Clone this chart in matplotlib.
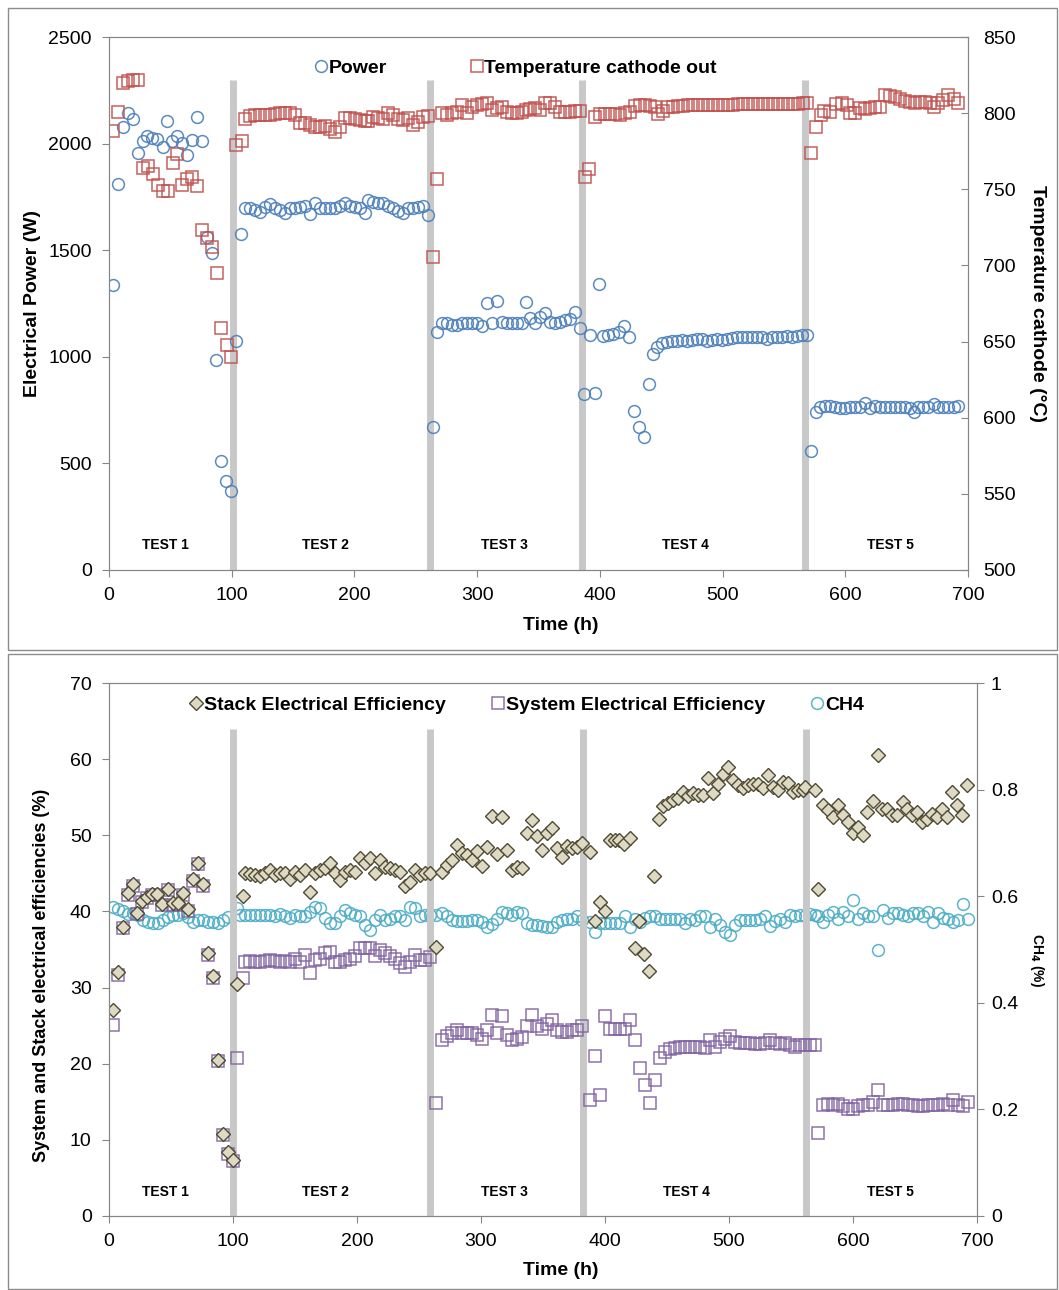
import matplotlib
matplotlib.use("Agg")
import matplotlib.pyplot as plt
from matplotlib.patches import Rectangle
from matplotlib.ticker import FuncFormatter

# ---- top chart: electrical power and cathode outlet temperature ----
power_h = [3.5, 7.6, 11.2, 15.2, 19.3, 23.4, 27.5, 31.2, 34.8, 39.4, 43.8, 47.5, 51.1, 55.4, 59.2,
           63.3, 67.4, 71.5, 75.5, 79.6, 83.7, 87.2, 91.3, 95.4, 99.4, 103.5, 107.6,
           110.8, 114.9, 118.9, 123.1, 127.1, 131.2, 135.3, 139.4, 143.4, 147.5, 151.6, 155.7, 159.7,
           163.8, 167.9, 172.0, 176.0, 180.1, 184.2, 188.3, 192.3, 196.4, 200.5, 204.6, 208.6, 211.4,
           215.4, 219.5, 223.6, 227.7, 231.7, 235.8, 239.9, 244.0, 248.0, 252.1, 256.2, 260.3,
           263.8, 267.6, 271.1, 275.2, 279.3, 283.3, 287.4, 291.5, 295.6, 299.6, 303.7, 307.8, 311.9,
           315.9, 320.0, 324.1, 328.2, 332.2, 336.3, 339.8, 343.1, 347.2, 351.2, 355.3, 359.4, 363.5,
           367.5, 371.6, 375.7, 379.8, 383.8,
           387.0, 392.0, 396.0, 399.6, 402.9, 407.0, 411.0, 415.9, 419.7, 424.0, 427.9, 432.0, 436.0,
           439.9, 443.6, 446.9, 450.4, 454.4, 458.6, 462.6, 466.7, 470.8, 474.9, 478.9, 483.0, 487.1,
           491.2, 495.2, 499.3, 503.4, 507.5, 511.5, 515.6, 519.7, 523.8, 527.8, 531.9, 536.0, 540.1,
           544.1, 548.2, 552.3, 556.4, 560.4, 564.5, 568.6,
           571.9, 576.2, 579.4, 583.5, 587.6, 591.7, 595.8, 599.8, 603.9, 608.0, 612.1, 616.1, 620.2,
           624.3, 628.4, 632.4, 636.5, 640.6, 644.7, 648.7, 652.8, 656.1, 659.6, 663.7, 667.8, 671.9,
           675.9, 680.0, 684.1, 688.2, 692.2]
power_w = [1337, 1811, 2079, 2145, 2114, 1954, 2011, 2036, 2025, 2023, 1985, 2107, 2011, 2036, 2001,
           1945, 2017, 2123, 2011, 1560, 1485, 985, 511, 416, 372, 1075, 1576,
           1699, 1696, 1689, 1681, 1704, 1715, 1699, 1689, 1676, 1696, 1699, 1704, 1707,
           1668, 1720, 1696, 1696, 1696, 1699, 1707, 1720, 1707, 1704, 1696, 1673, 1735,
           1728, 1723, 1720, 1707, 1696, 1684, 1676, 1696, 1699, 1704, 1707, 1665,
           672, 1115, 1157, 1160, 1149, 1149, 1160, 1157, 1157, 1157, 1144, 1254, 1157,
           1262, 1165, 1157, 1160, 1157, 1157, 1259, 1180, 1157, 1188, 1204, 1165, 1160,
           1165, 1173, 1176, 1212, 1134,
           825, 1102, 832, 1341, 1098, 1102, 1107, 1118, 1146, 1091, 746, 669, 622,
           872, 1013, 1047, 1063, 1071, 1074, 1076, 1079, 1076, 1079, 1082, 1082, 1076,
           1079, 1082, 1079, 1082, 1087, 1091, 1094, 1094, 1094, 1091, 1091, 1082, 1091,
           1094, 1094, 1098, 1094, 1098, 1102, 1102,
           560, 743, 766, 769, 769, 763, 758, 758, 763, 763, 766, 782, 758,
           769, 766, 763, 763, 763, 763, 763, 758, 743, 763, 763, 766, 779,
           766, 763, 763, 766, 769]

tcat_h = [3.5, 7.6, 11.2, 15.7, 19.8, 23.9, 27.5, 31.5, 35.6, 39.7, 43.8, 47.8, 51.9, 55.7, 59.2,
          63.3, 67.4, 71.5, 75.5, 79.6, 83.7, 87.8, 91.5, 95.9, 99.4, 103.5, 108.1,
          110.8, 114.9, 118.9, 123.1, 127.1, 131.2, 135.3, 139.4, 143.4, 147.5, 151.6, 155.7, 159.7,
          163.8, 167.9, 172.0, 176.0, 180.1, 184.2, 188.3, 192.3, 196.4, 200.5, 204.6, 208.6, 211.4,
          215.4, 219.5, 223.6, 227.7, 231.7, 235.8, 239.9, 244.0, 248.0, 252.1, 256.2, 260.3,
          263.8, 267.6, 271.1, 275.2, 279.3, 283.3, 287.4, 291.5, 295.6, 299.6, 303.7, 307.8, 311.9,
          315.9, 320.0, 324.1, 328.2, 332.2, 336.3, 339.8, 343.1, 347.2, 351.2, 355.3, 359.4, 363.5,
          367.5, 371.6, 375.7, 379.8, 383.8,
          388.0, 391.4, 396.1, 400.2, 404.2, 408.3, 412.4, 416.4, 420.5, 424.6, 428.7, 432.7, 436.8,
          440.9, 445.0, 447.7, 451.8, 455.9, 459.9, 464.0, 468.1, 472.2, 476.3, 480.3, 484.4, 488.5,
          492.6, 496.6, 500.7, 504.8, 508.8, 512.9, 517.0, 521.1, 525.1, 529.2, 533.3, 537.4, 541.4,
          545.5, 549.6, 553.7, 557.7, 561.8, 565.9, 568.6,
          571.9, 576.2, 580.0, 582.3, 587.6, 592.5, 597.1, 601.2, 603.9, 608.0, 612.1, 616.1, 620.2,
          624.3, 628.4, 632.4, 636.5, 640.6, 644.7, 648.7, 652.8, 656.9, 661.0, 665.0, 669.1, 672.4,
          675.9, 680.0, 684.1, 688.2, 692.2]
tcat_c = [788, 801, 820, 821, 822, 822, 764, 765, 760, 753, 749, 749, 767, 773, 753,
          757, 758, 752, 723, 718, 712, 695, 659, 648, 640, 779, 782,
          795.9, 798.1, 798.5, 798.7, 798.7, 798.9, 799.4, 799.8, 800.3, 800.3, 798.9, 793.3, 793.7,
          792.2, 791.1, 791.1, 791.5, 789.5, 787.8, 791.1, 796.6, 796.6, 795.9, 795.5, 795.0, 795.0,
          797.7, 796.6, 795.9, 799.8, 798.7, 795.9, 795.5, 796.6, 792.2, 794.4, 797.2, 798.1,
          705.7, 756.9, 799.8, 798.7, 799.8, 800.9, 805.3, 799.8, 804.2, 805.3, 806.0, 806.4, 802.0,
          803.1, 804.2, 800.9, 799.8, 799.8, 800.9, 802.0, 802.4, 803.1, 802.0, 806.9, 806.4, 803.8,
          800.9, 800.9, 800.9, 801.6, 801.6,
          758.2, 763.1, 797.7, 799.4, 799.4, 799.4, 799.4, 798.7, 800.3, 800.9, 804.7, 805.3, 805.3,
          804.7, 804.3, 799.4, 801.6, 803.8, 804.3, 804.7, 804.7, 805.3, 805.3, 805.3, 805.3, 805.3,
          805.3, 805.3, 805.3, 805.3, 805.3, 806.0, 806.0, 806.0, 806.0, 806.0, 806.0, 806.0, 806.0,
          806.0, 806.0, 806.0, 806.0, 806.0, 806.4, 806.8,
          774.0, 790.7, 798.8, 801.6, 800.9, 806.0, 806.4, 805.3, 800.3, 800.3, 803.1, 802.4, 803.1,
          804.3, 804.3, 811.9, 811.3, 810.8, 809.1, 808.3, 807.6, 806.4, 807.6, 807.6, 806.9, 804.3,
          806.4, 808.7, 811.9, 809.1, 806.4]

# ---- bottom chart: efficiencies and CH4 ----
stack_h = [3.5, 7.5, 11.5, 15.6, 19.6, 22.8, 26.4, 30.4, 34.4, 38.5, 43.0, 47.8, 51.9, 55.9, 59.9,
           64.0, 68.0, 71.5, 76.0, 79.6, 83.6, 87.7, 91.7, 95.7, 99.8, 103.5, 107.8,
           109.7, 113.7, 117.7, 121.8, 125.8, 129.8, 133.9, 137.9, 141.9, 146.0, 150.0, 154.0, 158.1,
           162.1, 166.1, 170.2, 174.2, 178.2, 182.3, 186.3, 190.3, 194.4, 198.4, 202.4, 206.5, 210.5,
           214.5, 218.5, 222.6, 226.6, 230.6, 234.7, 238.7, 242.7, 246.8, 250.8, 254.8, 258.9,
           263.7, 268.3, 272.3, 276.3, 280.4, 284.4, 288.4, 292.5, 296.5, 300.5, 304.6, 308.6, 312.6,
           316.7, 320.7, 324.7, 328.8, 332.8, 336.8, 340.9, 344.9, 348.9, 353.0, 357.0, 361.0, 365.1,
           369.1, 373.1, 377.2, 381.2,
           388.0, 392.0, 396.0, 400.0, 404.0, 408.0, 411.5, 415.6, 420.2, 424.2, 427.7, 431.7, 435.8,
           439.5, 443.8, 447.0, 451.0, 455.0, 459.1, 463.1, 467.1, 471.2, 475.2, 479.2, 483.3, 487.3,
           491.3, 495.4, 499.4, 503.4, 507.5, 511.5, 515.5, 519.6, 523.6, 527.6, 531.7, 535.7, 539.7,
           543.8, 547.8, 551.8, 555.9, 559.9, 561.3, 569.4,
           572.0, 575.5, 580.1, 584.1, 588.1, 592.2, 596.2, 600.3, 604.3, 608.3, 611.6, 615.9, 619.9,
           623.1, 627.2, 631.2, 635.2, 640.1, 643.8, 647.8, 651.3, 655.4, 659.4, 663.4, 667.5, 671.5,
           676.1, 680.1, 684.1, 688.2, 692.2]
stack_eff = [27.1, 32.0, 38.0, 42.4, 43.6, 39.8, 41.4, 41.9, 42.3, 42.3, 41.0, 43.0, 41.1, 41.1, 42.4,
             40.3, 44.2, 46.4, 43.6, 34.5, 31.5, 20.5, 10.8, 8.4, 7.4, 30.5, 42.0,
             45.0, 44.9, 44.8, 44.6, 45.0, 45.4, 44.8, 45.0, 45.0, 44.2, 45.2, 44.8, 45.4,
             42.6, 45.0, 45.4, 45.7, 46.3, 45.1, 44.1, 45.2, 45.4, 45.2, 47.0, 46.3, 47.0,
             45.0, 46.7, 45.9, 45.7, 45.5, 45.2, 43.3, 43.9, 45.5, 44.8, 45.1, 45.1,
             35.3, 45.2, 46.1, 46.8, 48.7, 47.7, 47.4, 46.7, 48.0, 46.0, 48.5, 52.5, 47.6,
             52.4, 48.1, 45.4, 45.9, 45.7, 50.3, 52.0, 49.9, 48.1, 50.3, 50.9, 48.3, 47.2,
             48.6, 48.3, 48.5, 49.0,
             47.8, 38.7, 41.2, 40.0, 49.4, 49.4, 49.4, 48.9, 49.7, 35.2, 38.7, 34.4, 32.2,
             44.7, 52.1, 53.8, 54.3, 54.6, 54.9, 55.7, 55.1, 55.5, 55.3, 55.3, 57.5, 55.5,
             56.8, 58.1, 59.0, 57.3, 56.6, 56.2, 56.6, 56.8, 56.8, 56.2, 57.9, 56.4, 56.0,
             57.0, 56.9, 55.7, 56.0, 56.0, 56.4, 56.0,
             43.0, 54.0, 53.3, 52.4, 54.0, 52.7, 51.8, 50.3, 51.1, 50.0, 53.0, 54.5, 60.5,
             53.5, 53.5, 52.7, 52.7, 54.4, 53.5, 52.7, 53.1, 51.8, 52.2, 52.8, 52.4, 53.5,
             52.4, 55.7, 54.0, 52.7, 56.6]

system_h = [3.5, 7.5, 11.5, 15.6, 19.6, 22.8, 26.4, 30.4, 34.4, 38.5, 43.0, 47.8, 51.9, 55.9, 59.9,
            64.0, 68.0, 71.5, 76.0, 79.6, 83.6, 87.7, 91.7, 95.7, 99.8, 103.5, 107.8,
            109.7, 113.7, 117.7, 121.8, 125.8, 129.8, 133.9, 137.9, 141.9, 146.0, 150.0, 154.0, 158.1,
            162.1, 166.1, 170.2, 174.2, 178.2, 182.3, 186.3, 190.3, 194.4, 198.4, 202.4, 206.5, 210.5,
            214.5, 218.5, 222.6, 226.6, 230.6, 234.7, 238.7, 242.7, 246.8, 250.8, 254.8, 258.9,
            263.7, 268.3, 272.3, 276.3, 280.4, 284.4, 288.4, 292.5, 296.5, 300.5, 304.6, 308.6, 312.6,
            316.7, 320.7, 324.7, 328.8, 332.8, 336.8, 340.9, 344.9, 348.9, 353.0, 357.0, 361.0, 365.1,
            369.1, 373.1, 377.2, 381.2,
            388.0, 392.0, 396.0, 400.0, 404.0, 408.0, 412.0, 416.0, 420.0, 424.0, 428.0, 432.0, 436.0,
            440.0, 444.0, 448.4, 452.4, 456.5, 460.5, 464.5, 468.5, 472.6, 476.6, 480.6, 484.7, 488.7,
            492.7, 496.8, 500.8, 504.8, 508.9, 512.9, 516.9, 521.0, 525.0, 529.0, 533.1, 537.1, 541.1,
            545.2, 549.2, 553.2, 557.3, 561.3, 565.3, 569.4,
            572.0, 576.1, 580.1, 584.1, 588.2, 592.2, 596.2, 600.3, 604.3, 608.3, 612.4, 616.4, 619.9,
            624.4, 628.5, 632.5, 636.5, 640.6, 644.6, 648.6, 652.7, 656.7, 660.8, 664.8, 668.8, 672.8,
            676.9, 680.9, 684.9, 689.0, 693.0]
system_eff = [25.1, 31.6, 37.8, 42.2, 43.4, 39.6, 41.2, 41.7, 42.1, 42.1, 40.8, 42.8, 40.9, 40.9, 42.2,
              40.1, 44.0, 46.2, 43.4, 34.3, 31.3, 20.3, 10.6, 8.2, 7.2, 20.8, 31.2,
              33.4, 33.5, 33.4, 33.4, 33.5, 33.6, 33.5, 33.4, 33.5, 33.4, 33.8, 33.4, 34.3,
              31.9, 33.6, 33.8, 34.5, 34.7, 33.4, 33.3, 33.6, 33.8, 34.1, 35.2, 35.2, 35.2,
              34.1, 34.9, 34.5, 34.1, 33.8, 33.2, 32.7, 33.4, 34.3, 33.6, 33.6, 34.0,
              14.9, 23.1, 23.6, 24.0, 24.4, 24.0, 24.0, 24.0, 23.8, 23.3, 24.4, 26.4, 24.0,
              26.3, 23.8, 23.1, 23.2, 23.5, 25.0, 26.4, 24.9, 24.5, 25.2, 25.7, 24.4, 24.2,
              24.2, 24.4, 24.4, 24.9,
              15.2, 21.0, 15.9, 26.3, 24.6, 24.6, 24.6, 24.5, 25.8, 23.1, 19.4, 17.2, 14.8,
              17.9, 20.8, 21.6, 21.9, 22.0, 22.2, 22.2, 22.2, 22.2, 22.2, 22.0, 23.1, 22.2,
              22.9, 23.3, 23.6, 22.9, 22.7, 22.7, 22.7, 22.6, 22.6, 22.7, 23.1, 22.7, 22.6,
              22.7, 22.5, 22.2, 22.4, 22.5, 22.5, 22.5,
              10.9, 14.6, 14.7, 14.6, 14.7, 14.4, 14.0, 14.1, 14.4, 14.6, 14.6, 15.0, 16.5,
              14.6, 14.6, 14.6, 14.7, 14.7, 14.6, 14.6, 14.4, 14.4, 14.6, 14.6, 14.6, 14.7,
              14.6, 15.2, 14.6, 14.4, 15.0]

ch4_h = [3.5, 7.5, 11.5, 15.6, 19.6, 23.6, 27.6, 31.7, 35.7, 39.7, 43.8, 47.8, 51.8, 55.9, 59.9,
         63.9, 68.0, 72.0, 76.0, 80.0, 84.0, 88.0, 92.0, 96.0, 103.0, 106.0,
         109.7, 113.7, 117.7, 121.8, 125.8, 129.8, 133.9, 137.9, 141.9, 146.0, 150.0, 154.0, 158.1,
         162.1, 166.1, 170.2, 174.2, 178.2, 182.3, 186.3, 190.3, 194.4, 198.4, 202.4, 206.5, 210.5,
         214.5, 218.5, 222.6, 226.6, 230.6, 234.7, 238.7, 242.7, 246.8, 250.8, 254.8, 258.9,
         263.7, 268.3, 272.3, 276.3, 280.4, 284.4, 288.4, 292.5, 296.5, 300.5, 304.6, 308.6, 312.6,
         316.7, 320.7, 324.7, 328.8, 332.8, 336.8, 340.9, 344.9, 348.9, 353.0, 357.0, 361.0, 365.1,
         369.1, 373.1, 377.2, 381.2,
         387.9, 392.0, 396.0, 400.0, 404.0, 408.1, 412.1, 416.1, 420.2, 424.2, 428.2, 432.3, 436.3,
         440.3, 444.4, 448.4, 452.4, 456.5, 460.5, 464.5, 468.5, 472.6, 476.6, 480.6, 484.7, 488.7,
         492.7, 496.8, 500.8, 504.8, 508.9, 512.9, 516.9, 521.0, 525.0, 529.0, 533.1, 537.1, 541.1,
         545.2, 549.2, 553.2, 557.3, 561.3, 565.3, 569.4,
         572.0, 576.1, 580.1, 584.1, 588.2, 592.2, 596.2, 600.3, 604.3, 608.3, 612.4, 616.4, 619.9,
         623.9, 627.9, 631.9, 636.0, 640.0, 644.0, 648.1, 652.1, 656.1, 660.2, 664.2, 668.2, 672.3,
         676.3, 680.3, 684.4, 688.4, 692.4]
ch4_frac = [0.580, 0.576, 0.572, 0.566, 0.568, 0.565, 0.555, 0.552, 0.550, 0.549, 0.555, 0.561, 0.565,
            0.565, 0.568, 0.561, 0.552, 0.555, 0.555, 0.552, 0.552, 0.550, 0.555, 0.561, 0.578, 0.565,
            0.565, 0.565, 0.565, 0.565, 0.565, 0.565, 0.563, 0.567, 0.563, 0.560, 0.565, 0.562, 0.563,
            0.570, 0.579, 0.577, 0.560, 0.549, 0.550, 0.563, 0.574, 0.568, 0.565, 0.562, 0.546, 0.537,
            0.555, 0.565, 0.555, 0.558, 0.562, 0.563, 0.555, 0.580, 0.577, 0.562, 0.565, 0.565,
            0.565, 0.568, 0.562, 0.555, 0.554, 0.554, 0.554, 0.555, 0.555, 0.552, 0.543, 0.548, 0.558,
            0.571, 0.568, 0.565, 0.571, 0.568, 0.549, 0.546, 0.546, 0.544, 0.542, 0.543, 0.552, 0.555,
            0.558, 0.558, 0.562, 0.555,
            0.552, 0.532, 0.549, 0.549, 0.550, 0.550, 0.550, 0.562, 0.543, 0.558, 0.552, 0.560, 0.562,
            0.562, 0.558, 0.558, 0.558, 0.558, 0.558, 0.550, 0.558, 0.555, 0.562, 0.562, 0.543, 0.558,
            0.546, 0.533, 0.527, 0.546, 0.555, 0.555, 0.555, 0.555, 0.558, 0.562, 0.544, 0.554, 0.558,
            0.552, 0.565, 0.562, 0.565, 0.562, 0.567, 0.565,
            0.562, 0.552, 0.565, 0.571, 0.558, 0.571, 0.563, 0.592, 0.558, 0.568, 0.562, 0.562, 0.500,
            0.575, 0.560, 0.568, 0.568, 0.565, 0.562, 0.568, 0.568, 0.562, 0.571, 0.552, 0.569, 0.560,
            0.558, 0.552, 0.555, 0.585, 0.558]

test_names = ["TEST 1", "TEST 2", "TEST 3", "TEST 4", "TEST 5"]
test_pos_top = [45.6, 176, 322, 470, 636.5]
test_pos_bot = [45.2, 174.2, 318.5, 465.3, 629.8]
bars_top = [100.8, 261.6, 385.7, 567.2]
bars_bot = [99.8, 258.9, 382.0, 561.7]

plt.rcParams["font.family"] = ["Liberation Sans", "DejaVu Sans"]
W, H = 1059, 1290
GRAY = "#868686"
FS = 14

fig = plt.figure(figsize=(W / 100, H / 100), dpi=100)

# chart frames
fig.add_artist(Rectangle((8 / W, 1 - 650 / H), 1049 / W, 642 / H, transform=fig.transFigure,
                         fill=False, ec="#8c8c8c", lw=1))
fig.add_artist(Rectangle((8 / W, 1 - 1289 / H), 1049 / W, 635 / H, transform=fig.transFigure,
                         fill=False, ec="#8c8c8c", lw=1))


def style(ax, axr, right_dir, right_pad):
    for a in (ax, axr):
        for s in a.spines.values():
            s.set_color(GRAY)
    ax.tick_params(axis="both", labelsize=FS, color=GRAY, length=5, direction="out", pad=7.5)
    axr.tick_params(axis="y", labelsize=FS, color=GRAY, length=5, direction=right_dir,
                    pad=right_pad)


# ---------------- top ----------------
ax1 = fig.add_axes([109 / W, 1 - 570 / H, 859 / W, 533 / H])
ax1r = ax1.twinx()
ax1.vlines(bars_top, 0, 2298, color="#c8c8c8", lw=5, zorder=0)
hp, = ax1.plot(power_h, power_w, ls="none", marker="o", ms=8.5, mfc="none", mec="#4a7ebb",
               mew=1.1, alpha=0.9)
ht, = ax1r.plot(tcat_h, tcat_c, ls="none", marker="s", ms=8, mfc="none", mec="#c0504d",
                mew=1.1, alpha=0.9)
ax1.set_xlim(0, 700)
ax1.set_ylim(0, 2500)
ax1r.set_ylim(500, 850)
ax1.set_xticks(range(0, 701, 100))
ax1.set_yticks(range(0, 2501, 500))
ax1r.set_yticks(range(500, 851, 50))
style(ax1, ax1r, "in", 11)
ax1.set_ylabel("Electrical Power (W)", fontsize=FS, fontweight="bold")
ax1.yaxis.set_label_coords(-0.079, 0.5)
ax1r.set_ylabel("Temperature cathode (°C)", fontsize=FS, fontweight="bold", rotation=270)
ax1r.yaxis.set_label_coords(1.091, 0.5)
ax1.set_xlabel("Time (h)", fontsize=FS, fontweight="bold")
ax1.xaxis.set_label_coords(0.526, -0.088)
for name, x in zip(test_names, test_pos_top):
    ax1.text(x, 117, name, ha="center", va="center", fontsize=10, fontweight="bold")
ax1r.legend([hp, ht], ["Power", "Temperature cathode out"], loc="center",
            bbox_to_anchor=(0.474, 0.942), ncol=2, frameon=False,
            prop={"weight": "bold", "size": FS}, handlelength=0.6, handletextpad=0.1,
            columnspacing=4.3)

# ---------------- bottom ----------------
ax2 = fig.add_axes([109 / W, 1 - 1216 / H, 868 / W, 533 / H])
ax2r = ax2.twinx()
ax2.set_zorder(ax2r.get_zorder() + 1)
ax2.patch.set_visible(False)
ax2.vlines(bars_bot, 0, 64, color="#c8c8c8", lw=5, zorder=0)
hc, = ax2r.plot(ch4_h, ch4_frac, ls="none", marker="o", ms=8.5, mfc="none", mec="#4bacc6",
                mew=1.1, alpha=0.9)
hs, = ax2.plot(system_h, system_eff, ls="none", marker="s", ms=8, mfc="none", mec="#8064a2",
               mew=1.1, alpha=0.9)
hd, = ax2.plot(stack_h, stack_eff, ls="none", marker="D", ms=7, mfc="#ddd9c3", mec="#4f4a33",
               mew=1.0)
ax2.set_xlim(0, 700)
ax2.set_ylim(0, 70)
ax2r.set_ylim(0, 1)
ax2.set_xticks(range(0, 701, 100))
ax2.set_yticks(range(0, 71, 10))
ax2r.set_yticks([0, 0.2, 0.4, 0.6, 0.8, 1.0])
ax2r.yaxis.set_major_formatter(FuncFormatter(lambda v, p: "%g" % round(v, 1)))
style(ax2, ax2r, "out", 5)
ax2.set_ylabel("System and Stack electrical efficiencies (%)", fontsize=13, fontweight="bold")
ax2.yaxis.set_label_coords(-0.068, 0.452)
ax2r.set_ylabel("CH$_\\mathbf{4}$ (%)", fontsize=10, fontweight="bold", rotation=270)
ax2r.yaxis.set_label_coords(1.0795, 0.48)
ax2.set_xlabel("Time (h)", fontsize=FS, fontweight="bold")
ax2.xaxis.set_label_coords(0.521, -0.086)
for name, x in zip(test_names, test_pos_bot):
    ax2.text(x, 3.15, name, ha="center", va="center", fontsize=10, fontweight="bold")
ax2.legend([hd, hs, hc], ["Stack Electrical Efficiency", "System Electrical Efficiency", "CH4"],
           loc="center", bbox_to_anchor=(0.4816, 0.9587), ncol=3, frameon=False,
           prop={"weight": "bold", "size": FS}, handlelength=0.6, handletextpad=0.1,
           columnspacing=2.4)

fig.savefig("out.png", dpi=100)
